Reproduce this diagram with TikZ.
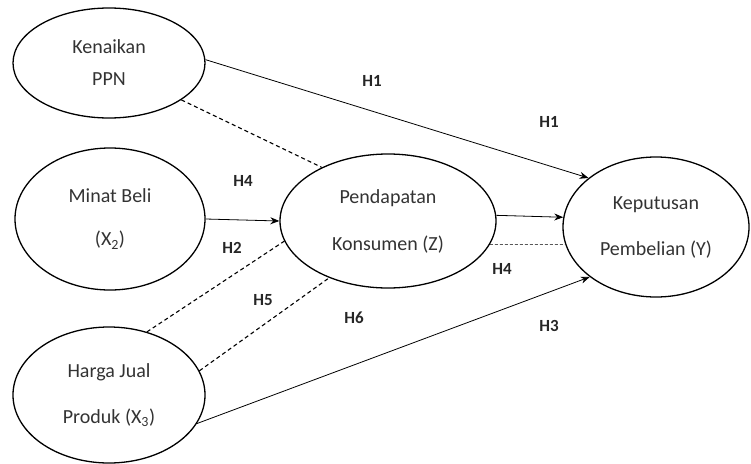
\documentclass[tikz,border=0pt]{standalone}
\usepackage{fontspec}
\setmainfont{Carlito}
\usetikzlibrary{shapes.geometric,arrows.meta}
\tikzset{
  varnode/.style={draw,ellipse,line width=1.3pt,inner sep=0pt,align=center,
    text=black!80,font=\fontsize{20}{24}\selectfont},
  hlabel/.style={font=\fontsize{17}{20}\selectfont\bfseries,text=black!85},
  path/.style={line width=0.8pt,-{Stealth[length=9pt,width=7pt]}},
  dpath/.style={line width=1.1pt,dash pattern=on 4pt off 3pt}
}
\begin{document}
\begin{tikzpicture}[x=1pt,y=-1pt]
		\useasboundingbox (0,0) rectangle (751,463);
		% variables
		\node[varnode,minimum width=192pt,minimum height=110pt] (ppn) at (109,63) {Kenaikan\\[8pt]PPN};
		\node[varnode,minimum width=190pt,minimum height=142pt] (minat) at (110,219) {Minat Beli\\[19pt](X\textsubscript{2})};
		\node[varnode,minimum width=216pt,minimum height=134pt] (pend) at (388,221) {Pendapatan\\[23pt]Konsumen (Z)};
		\node[varnode,minimum width=186pt,minimum height=140pt] (kep) at (656,227) {Keputusan\\[22pt]Pembelian (Y)};
		\node[varnode,minimum width=192pt,minimum height=136pt] (harga) at (109,395) {Harga Jual\\[22pt]Produk (X\textsubscript{3})};
		
		% hubungan
		\draw[path] (ppn.2) -- (kep.144);
		\draw[dpath] (ppn.-27) -- (pend.141);
		\draw[path] (minat.east) -- (pend.west);
		\draw[path] (pend.3) -- (kep.174);
		\draw[dash pattern=on 3pt off 2pt,line width=0.5pt] (pend.-13) -- (kep.-169);
		\draw[dpath] (harga.59) -- (pend.191);
		\draw[dpath] (harga.15) -- (pend.224);
		\draw[path] (harga.-18) -- (kep.217);
		
		\node[hlabel] (h1a) at (372,81) {H1};
		\node[hlabel] (h1b) at (549,122) {H1};
		\node[hlabel] (h4a) at (243,181) {H4};
		\node[hlabel] (h2) at (232,248) {H2};
		\node[hlabel] (h5) at (263,300) {H5};
		\node[hlabel] (h6) at (354,318) {H6};
		\node[hlabel] (h4b) at (502,269) {H4};
		\node[hlabel] (h3) at (549,326) {H3};
\end{tikzpicture}
\end{document}
